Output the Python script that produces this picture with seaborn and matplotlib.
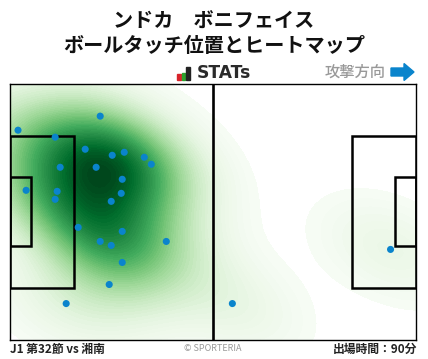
import numpy as np
import pandas as pd
import seaborn as sns
import matplotlib.pyplot as plt
from matplotlib.patches import Rectangle, FancyArrow

W, H = 428, 359

# touch positions in metres, y measured from the top touchline
touch_x = [23.25, 2.0, 11.6, 19.37, 26.36, 29.47, 34.65, 36.46, 12.9, 22.2, 28.95, 4.09, 12.12,
           28.69, 11.6, 26.1, 17.56, 28.95, 23.25, 26.1, 40.34, 28.95, 25.58, 14.45, 57.43, 98.34]
touch_y = [8.46, 12.19, 14.05, 17.25, 18.85, 18.05, 19.38, 21.24, 22.04, 22.04, 25.23, 28.16, 28.43,
           28.96, 30.56, 31.09, 38.01, 39.07, 41.74, 42.8, 41.74, 47.32, 53.18, 58.24, 58.24, 43.86]

title_lines = ['ンドカ　ボニフェイス', 'ボールタッチ位置とヒートマップ']
match_label = 'J1 第32節 vs 湘南'
minutes_label = '出場時間：90分'
direction_label = '攻撃方向'

sns.set_theme(style='white')
plt.rcParams['font.family'] = ['Noto Sans CJK JP', 'DejaVu Sans']

df = pd.DataFrame({'x': touch_x, 'y': touch_y})

fig = plt.figure(figsize=(W / 100, H / 100), dpi=100)
ax = fig.add_axes([10.3 / W, 1 - 340.3 / H, 406 / W, 256 / H])

sns.kdeplot(data=df, x='x', y='y', fill=True, cmap='Greens', levels=60, thresh=0.024,
            bw_adjust=1.12, cut=8, gridsize=200, ax=ax, zorder=1)
sns.scatterplot(data=df, x='x', y='y', s=26, color='#0a84cc', edgecolor='none', ax=ax, zorder=4)

# pitch lines
for x0, w, y0, h in [(0, 16.4, 13.7, 40.3), (0, 5.3, 24.75, 18.3),
                     (88.4, 16.6, 13.7, 40.3), (99.6, 5.4, 24.75, 18.3)]:
    ax.add_patch(Rectangle((x0, y0), w, h, fill=False, ec='black', lw=1.8, zorder=3))
ax.plot([52.5, 52.5], [0, 68], color='black', lw=1.9, zorder=3)

ax.set_xlim(0, 105)
ax.set_ylim(68, 0)
ax.set_xlabel('')
ax.set_ylabel('')
ax.set_xticks([])
ax.set_yticks([])
for s in ax.spines.values():
    s.set_visible(True)
    s.set_color('black')
    s.set_linewidth(1)
    s.set_zorder(5)

# header
fig.text(214 / W, 1 - 21 / H, title_lines[0], ha='center', va='center', fontsize=14.5, fontweight='bold', color='#111111')
fig.text(214 / W, 1 - 46 / H, title_lines[1], ha='center', va='center', fontsize=14.5, fontweight='bold', color='#111111')

# STATs logo
for px, h, c in [(177, 6, '#d8232a'), (181.7, 7, '#2ca02c'), (186.3, 13, '#222222')]:
    fig.add_artist(Rectangle((px / W, 1 - 80 / H), 3.7 / W, h / H, color=c, transform=fig.transFigure))
fig.text(196.5 / W, 1 - 73.5 / H, 'STATs', ha='left', va='center', fontsize=12.3, fontweight='bold', color='#2a2a2a',
         family='DejaVu Sans')

fig.text(385.5 / W, 1 - 72 / H, direction_label, ha='right', va='center', fontsize=11, fontweight='medium', color='#999999')
fig.add_artist(FancyArrow(391 / W, 1 - 72 / H, 23 / W, 0, width=8 / H, head_width=17 / H, head_length=10 / W,
                          length_includes_head=True, color='#0a84cc', transform=fig.transFigure))

# footer
fig.text(10 / W, 1 - 349.5 / H, match_label, ha='left', va='center', fontsize=8.5, fontweight='bold', color='#222222')
fig.text(213 / W, 1 - 348.5 / H, '© SPORTERIA', ha='center', va='center', fontsize=6.5, color='#999999')
fig.text(417 / W, 1 - 349.5 / H, minutes_label, ha='right', va='center', fontsize=8.5, fontweight='bold', color='#222222')

fig.savefig('out.png', dpi=100)
